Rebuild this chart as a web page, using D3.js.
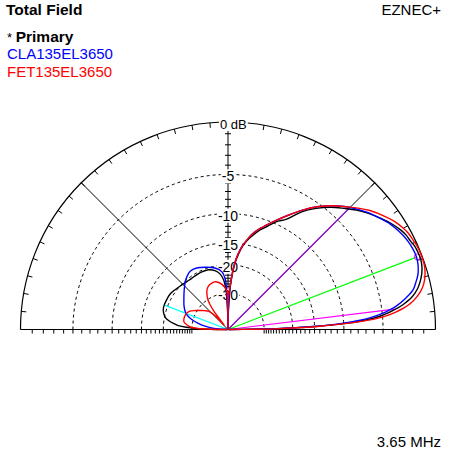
<!DOCTYPE html>
<html><head><meta charset="utf-8">
<script src="https://cdn.jsdelivr.net/npm/d3@7"></script>
<style>body{margin:0;background:#fff}svg{display:block}text{font-family:"Liberation Sans",Arial,sans-serif}</style>
</head><body><svg id="c" width="459" height="462"></svg>
<script>
// ---------------- data ----------------
const ringValues = [0, -5, -10, -15, -20, -30];
const ringLabels = ["0 dB", "-5", "-10", "-15", "-20", "-30"];
const seriesNames = ["* Primary", "CLA135EL3650", "FET135EL3650"];
const seriesColors = ["#000000", "#0000ff", "#ff0000"];

const primaryAngles = [0,0.5,1,1.5,2,3,4,5,6,7,8,10,12,14,16,18,20,22,24,26,28,30,33,36,40,43,46,50,54,58,62,66,70,72,76,78,80,82,84,85,86,87,88,89,89.6,90,
  91,92,93,95,98,102,108,115,122,128,135,142,148,155,161,165,169,172,174,175.5,177,178,179,180];
const primaryDb = [-99,-36.4,-24.5,-18.7,-14.8,-9.7,-6.8,-5.3,-4.3,-3.5,-2.8,-1.8,-1.2,-0.8,-0.5,-0.3,-0.2,-0.2,-0.25,-0.4,-0.5,-0.7,-1.1,-1.6,-2.3,-2.9,-3.6,-4.5,-5.6,-6.9,-8.7,-9.7,-11.1,-11.7,-13.3,-14.2,-15.4,-17.1,-19.45,-21.3,-23.8,-27.1,-32.7,-43.0,-55.9,-99,
  -45.1,-33.2,-28.3,-24.5,-22.5,-21.3,-20.5,-20.4,-20.5,-20.5,-20.2,-19.7,-19.2,-19.1,-19.1,-19.45,-20.2,-21.6,-23.2,-24.5,-27.5,-31.6,-42.0,-99];

const claAngles = [0,0.5,1,1.5,2,3,4,5,6,7,8,10,12,14,16,18,20,22,24,26,28,30,33,36,40,43,46,50,54,58,62,66,70,72,76,78,80,82,84,85,86,87,88,89,89.6,90,
  91,92,93,96,102,110,117,123,128,132,138,145,152,158,162,165.5,168,171,174,177,180];
const claDb = [-99,-37.1,-25.2,-19.45,-15.4,-10.5,-7.7,-6.1,-4.9,-4.1,-3.4,-2.4,-1.6,-1.2,-0.85,-0.63,-0.5,-0.46,-0.5,-0.59,-0.72,-0.89,-1.2,-1.64,-2.24,-2.77,-3.36,-4.29,-5.38,-6.67,-8.07,-9.44,-10.78,-11.4,-12.9,-14.0,-15.2,-16.8,-19.2,-21.05,-23.5,-26.7,-32.1,-42.0,-53.9,-99,
  -40.2,-29.2,-24.5,-21.9,-20.5,-19.6,-18.9,-18.8,-19.45,-20.2,-21.6,-23.15,-24.5,-25.9,-27.5,-30.1,-32.7,-36.4,-42.0,-52.1,-99];

const fetAngles = [0,0.5,1,1.5,2,3,4,5,6,7,8,10,12,14,16,18,20,22,24,26,28,30,33,36,40,43,46,50,54,58,62,66,70,72,76,78,80,82,84,85,86,87,88,89,89.7,90,
  90.5,91,92,94,98,102,106,110,114,118,121,124,126,127.5,128.5,129.5,130.5,132,134,137,141,146,150,155,160,165,170,174,176.5,178,179,180];
const fetDb = [-99,-35.0,-23.8,-17.7,-14.0,-9.2,-6.1,-4.5,-3.5,-2.7,-2.1,-1.3,-0.76,-0.42,-0.21,-0.08,-0.04,-0.04,-0.08,-0.17,-0.25,-0.42,-0.76,-1.24,-1.96,-2.63,-3.36,-4.29,-5.38,-6.67,-8.07,-9.44,-10.78,-11.4,-12.9,-14.0,-15.2,-16.8,-19.2,-21.05,-23.5,-26.3,-28.7,-30.6,-33.2,-99,
  -36.4,-31.1,-28.7,-27.5,-25.9,-25.0,-24.6,-24.8,-25.2,-26.3,-27.9,-30.1,-33.2,-37.8,-45.1,-60.9,-55.9,-44.0,-38.6,-35.0,-33.2,-31.1,-29.2,-27.1,-26.3,-26.1,-26.3,-27.9,-29.6,-33.2,-42.0,-99];

// indicator lines (elevation angle, dB at end)
const maxGainAngle = 21, maxGainDb = -0.4;
const beamAngles = [7, 45], beamDb = [-3.64, -3.17];
const backAngle = 159, backDb = -19.3;

const dbTicks = d3.range(-1, -31, -1);
const degTicks = d3.range(5, 180, 5).filter(d => d !== 90);

// ---------------- layout ----------------
const svg = d3.select("#c");
const cx = 228, cy = 329.5, R = 207.5;
const logR = d3.scaleLinear().domain([0, -2]).range([0, Math.log(0.89)]);
const rOf = db => R * Math.exp(logR(db));
const ang = d3.scaleLinear().domain([0, 180]).range([Math.PI / 2, -Math.PI / 2]);
const px = (t, r) => cx + r * Math.sin(ang(t));
const py = (t, r) => cy - r * Math.cos(ang(t));

const g = svg.append("g");
// dashed rings
ringValues.slice(1).forEach(v => {
  const p = d3.path(); p.arc(cx, cy, rOf(v), Math.PI, 2 * Math.PI);
  g.append("path").attr("d", p.toString()).attr("fill", "none").attr("stroke", "#000")
    .attr("stroke-width", 1).attr("stroke-dasharray", "3,3");
});
// outer ring
{ const p = d3.path(); p.arc(cx, cy, R, Math.PI, 2 * Math.PI);
  g.append("path").attr("d", p.toString()).attr("fill", "none").attr("stroke", "#000").attr("stroke-width", 1.2); }
// baseline
g.append("line").attr("x1", cx - R).attr("x2", cx + R).attr("y1", cy).attr("y2", cy).attr("stroke", "#000").attr("stroke-width", 1.2);
// vertical axis
g.append("line").attr("x1", cx).attr("x2", cx).attr("y1", cy).attr("y2", cy - R).attr("stroke", "#000");
// diagonal radials
[45, 135].forEach(t => g.append("line").attr("x1", cx).attr("y1", cy).attr("x2", px(t, R)).attr("y2", py(t, R)).attr("stroke", "#000"));
// outer degree ticks
degTicks.forEach(t => g.append("line").attr("x1", px(t, R)).attr("y1", py(t, R)).attr("x2", px(t, R - 5)).attr("y2", py(t, R - 5)).attr("stroke", "#000"));
// dB ticks on baseline (both sides) and vertical axis
dbTicks.forEach(v => {
  const r = rOf(v);
  [-1, 1].forEach(s => g.append("line").attr("x1", cx + s * r).attr("x2", cx + s * r).attr("y1", cy).attr("y2", cy + 4).attr("stroke", "#000"));
  g.append("line").attr("x1", cx - 3).attr("x2", cx + 3).attr("y1", cy - r).attr("y2", cy - r).attr("stroke", "#000");
});
// ring labels
ringValues.forEach((v, i) => {
  const r = rOf(v);
  const t = g.append("text").text(ringLabels[i]).attr("font-size", i === 0 ? 13 : 14)
    .attr("text-anchor", i === 0 ? "start" : "middle")
    .attr("x", i === 0 ? cx - 8 : cx).attr("y", cy - r + 7);
  const b = t.node().getBBox();
  g.insert("rect", "text").attr("x", b.x - 1).attr("y", b.y + 1).attr("width", b.width + 2).attr("height", b.height - 2).attr("fill", "#fff");
});

// indicator lines
g.append("line").attr("x1", cx).attr("y1", cy).attr("x2", px(backAngle, rOf(backDb))).attr("y2", py(backAngle, rOf(backDb))).attr("stroke", "#00ffff").attr("stroke-width", 1.2);
beamAngles.forEach((t, i) => g.append("line").attr("x1", cx).attr("y1", cy).attr("x2", px(t, rOf(beamDb[i]))).attr("y2", py(t, rOf(beamDb[i])))
  .attr("stroke", i === 1 ? "#9010d0" : "#ff00ff").attr("stroke-width", 1.2));
g.append("line").attr("x1", cx).attr("y1", cy).attr("x2", px(maxGainAngle, rOf(maxGainDb))).attr("y2", py(maxGainAngle, rOf(maxGainDb))).attr("stroke", "#00ff00").attr("stroke-width", 1.2);
g.append("circle").attr("cx", px(maxGainAngle, rOf(maxGainDb))).attr("cy", py(maxGainAngle, rOf(maxGainDb))).attr("r", 3).attr("fill", "none").attr("stroke", "#ff00ff");

// traces
const line = d3.lineRadial().angle(d => ang(d[0])).radius(d => rOf(d[1])).curve(d3.curveCatmullRom.alpha(0.5));
const series = [[primaryAngles, primaryDb], [claAngles, claDb], [fetAngles, fetDb]];
series.forEach((s, i) => {
  const pts = s[0].map((a, j) => [a, s[1][j]]);
  g.append("path").attr("d", line(pts)).attr("transform", `translate(${cx},${cy})`)
    .attr("fill", "none").attr("stroke", seriesColors[i]).attr("stroke-width", 1.4);
});

// texts
svg.append("text").text("Total Field").attr("x", 6).attr("y", 15).attr("font-size", 15.5).attr("font-weight", "bold");
svg.append("text").text("EZNEC+").attr("x", 441).attr("y", 15).attr("font-size", 15).attr("text-anchor", "end");
const leg = svg.append("text").attr("x", 7).attr("y", 42).attr("font-size", 15);
leg.append("tspan").text("* ").attr("font-size", 13);
leg.append("tspan").text("Primary").attr("font-weight", "bold").attr("font-size", 15.5);
svg.append("text").text(seriesNames[1]).attr("x", 7).attr("y", 59).attr("font-size", 15).attr("fill", seriesColors[1]);
svg.append("text").text(seriesNames[2]).attr("x", 7).attr("y", 77).attr("font-size", 15).attr("fill", seriesColors[2]);
svg.append("text").text("3.65 MHz").attr("x", 441).attr("y", 447).attr("font-size", 15).attr("text-anchor", "end");
</script></body></html>
